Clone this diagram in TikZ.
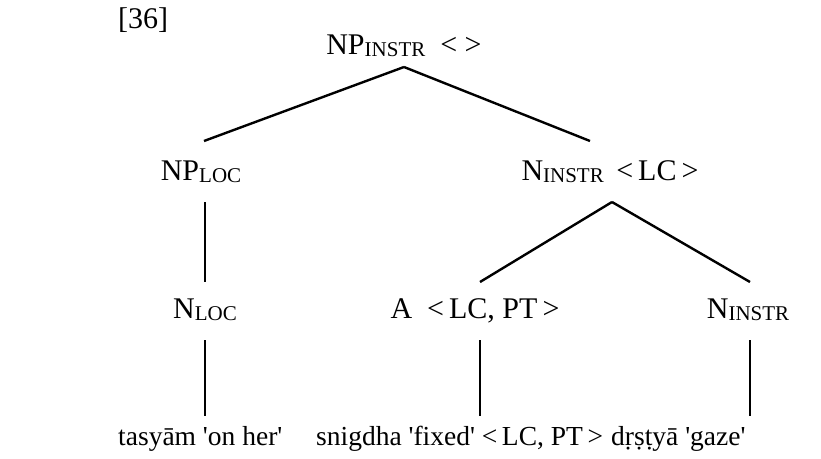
\documentclass[tikz,border=0pt]{standalone}
\usepackage{fontspec}
\setmainfont{Liberation Serif}
\newcommand\sbs[1]{\raisebox{-2pt}{\fontsize{21}{21}\selectfont #1}}
\newcommand\q{\textquotesingle}
\begin{document}
\begin{tikzpicture}[x=1pt,y=-1pt,
  lbl/.style={inner sep=0pt,anchor=base,font=\fontsize{30}{36}\selectfont},
  leaf/.style={inner sep=0pt,anchor=base west,font=\fontsize{27.5}{33}\selectfont},
  edge/.style={line width=2.4pt}]
\useasboundingbox (0,0) rectangle (821,458);
\node[lbl,anchor=base west] (num) at (118,28) {[36]};
\node[lbl] (root) at (404,54) {NP\sbs{INSTR}\ \ <\ >};
\node[lbl] (nploc) at (201,180) {NP\sbs{LOC}};
\node[lbl] (ninstr) at (610,180) {N\sbs{INSTR}\ \,<\,LC\,>};
\node[lbl] (nloc) at (205,318) {N\sbs{LOC}};
\node[lbl] (a) at (475,318) {A\ \ <\,LC, PT\,>};
\node[lbl] (ninstr2) at (748,318) {N\sbs{INSTR}};
\node[leaf] (tas) at (118,445) {tasyām \q on her\q};
\node[leaf] (sn) at (316,445) {snigdha \q fixed\q\ <\,LC, PT\,>};
\node[leaf] (dr) at (611,445) {dṛṣṭyā \q gaze\q};
\draw[edge] ([yshift=-13pt]root.base) -- ([xshift=3pt,yshift=39pt]nploc.base);
\draw[edge] ([yshift=-13pt]root.base) -- ([xshift=-20pt,yshift=39pt]ninstr.base);
\draw[edge] ([xshift=4pt,yshift=-22pt]nploc.base) -- ([yshift=36pt]nloc.base);
\draw[edge] ([xshift=2pt,yshift=-22pt]ninstr.base) -- ([xshift=5pt,yshift=36pt]a.base);
\draw[edge] ([xshift=2pt,yshift=-22pt]ninstr.base) -- ([xshift=2pt,yshift=36pt]ninstr2.base);
\draw[edge] ([yshift=-22pt]nloc.base) -- ([xshift=87pt,yshift=29pt]tas.base west);
\draw[edge] ([xshift=5pt,yshift=-22pt]a.base) -- ([xshift=164pt,yshift=29pt]sn.base west);
\draw[edge] ([xshift=2pt,yshift=-22pt]ninstr2.base) -- ([xshift=139pt,yshift=29pt]dr.base west);
\end{tikzpicture}
\end{document}
